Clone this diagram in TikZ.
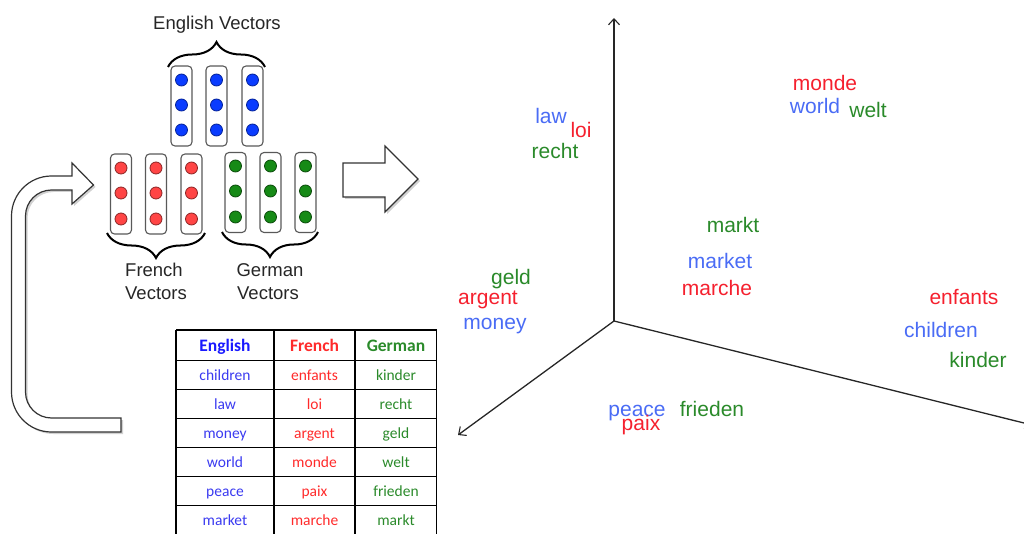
\documentclass[tikz,border=0pt]{standalone}
\usepackage{fontspec}
\setmainfont{Liberation Sans}
\newfontfamily\tablefont{Carlito}
\usetikzlibrary{arrows.meta,decorations.pathreplacing}

\definecolor{dotblue}{HTML}{0A3CFF}
\definecolor{dotred}{HTML}{FF4545}
\definecolor{dotgreen}{HTML}{168A16}
\definecolor{wblue}{HTML}{4A6CF5}
\definecolor{wred}{HTML}{F5202E}
\definecolor{wgreen}{HTML}{2A8A2A}
\definecolor{hblue}{HTML}{1A1AFF}
\definecolor{tblue}{HTML}{3A3AF0}
\definecolor{tred}{HTML}{FF2A2A}
\definecolor{tgreen}{HTML}{2A8A2A}

\begin{document}
\begin{tikzpicture}[x=1pt,y=-1pt,
  vbox/.style={draw=black!65,line width=1.1pt,fill=white,rounded corners=4pt,
    minimum width=21pt,minimum height=80pt,inner sep=0pt},
  vdot/.style={circle,minimum size=12pt,inner sep=0pt,line width=0.8pt},
  bdot/.style={vdot,fill=dotblue,draw=dotblue!60!black},
  rdot/.style={vdot,fill=dotred,draw=dotred!55!black},
  gdot/.style={vdot,fill=dotgreen,draw=dotgreen!55!black},
  bracepath/.style={decorate,decoration={brace,amplitude=25pt},line width=2pt},
  label/.style={font=\fontsize{18.5}{20}\selectfont,anchor=base,text=black!85},
  word/.style={font=\fontsize{21}{24}\selectfont,anchor=base,inner sep=0pt},
  blockarrow/.style={draw=black!80,line width=1.2pt,fill=white,line join=miter},
  arrowshadow/.style={fill=black!30,draw=none,opacity=0.6},
  axis/.style={line width=1.3pt,black!85,-{Straight Barb[length=6pt,width=11pt,line width=1.1pt]}},
  cell/.style={font=\tablefont\fontsize{15.5}{18}\selectfont,anchor=base,inner sep=0pt},
  head/.style={font=\tablefont\bfseries\fontsize{17.5}{20}\selectfont,anchor=base,inner sep=0pt},
  gridline/.style={line width=1.4pt,black}]

\useasboundingbox (0,0) rectangle (1024,534);
\clip (0,0) rectangle (1024,534);

% ---------- vector columns ----------
\foreach \i/\x in {1/181.5,2/216.5,3/252.5}{
  \node[vbox] (eb\i) at (\x,106) {};
  \node[bdot] (eb\i a) at (\x,80) {};
  \node[bdot] (eb\i b) at (\x,105) {};
  \node[bdot] (eb\i c) at (\x,130) {};
}
\foreach \i/\x in {1/121,2/156,3/191.5}{
  \node[vbox] (fb\i) at (\x,194) {};
  \node[rdot] (fb\i a) at (\x,168) {};
  \node[rdot] (fb\i b) at (\x,193) {};
  \node[rdot] (fb\i c) at (\x,219) {};
}
\foreach \i/\x in {1/235.5,2/270.5,3/305.5}{
  \node[vbox] (gb\i) at (\x,192.5) {};
  \node[gdot] (gb\i a) at (\x,166) {};
  \node[gdot] (gb\i b) at (\x,191) {};
  \node[gdot] (gb\i c) at (\x,217) {};
}

% ---------- braces and captions ----------
\coordinate (ebl) at (168,67);
\coordinate (ebr) at (265,67);
\coordinate (fbl) at (107,233);
\coordinate (fbr) at (205,233);
\coordinate (gbl) at (222,232);
\coordinate (gbr) at (318,232);
\draw[bracepath] (ebl) -- (ebr);
\draw[bracepath] (fbr) -- (fbl);
\draw[bracepath] (gbr) -- (gbl);

\node[label] (enlab) at (217,29.5) {English Vectors};
\node[label] (frlab1) at (154,276.5) {French};
\node[label] (frlab2) at (156,299.5) {Vectors};
\node[label] (delab1) at (270,276.5) {German};
\node[label] (delab2) at (268,299.5) {Vectors};

% ---------- block arrow to the right ----------
\def\rightarrowpath{(343,163) -- (385,163) -- (385,146) -- (418,179)
  -- (385,212) -- (385,197) -- (343,197) -- cycle}
\fill[arrowshadow,shift={(2,2)}] \rightarrowpath;
\draw[blockarrow] \rightarrowpath;

% ---------- U-turn arrow on the left ----------
\def\uturnpath{(121,432) -- (51.5,432)
  arc[start angle=90,end angle=180,radius=40] -- (11.5,216)
  arc[start angle=180,end angle=270,radius=40] -- (72,176) -- (72,163)
  -- (93.5,185) -- (72,204) -- (72,190) -- (51.5,190)
  arc[start angle=270,end angle=180,radius=26] -- (25.5,392)
  arc[start angle=180,end angle=90,radius=26] -- (121,418) -- cycle}
\fill[arrowshadow,shift={(2,2)}] \uturnpath;
\draw[blockarrow] \uturnpath;

% ---------- word table ----------
\draw[gridline] (176,330) -- (436.5,330);
\foreach \y in {360.5,389.5,418.5,447.5,476.7,505.7,534.7}
  \draw[gridline] (176,\y) -- (436.5,\y);
\foreach \x in {176,274,355,436.5}
  \draw[gridline] (\x,330) -- (\x,540);

\node[head,text=hblue] (thE) at (225,351) {English};
\node[head,text=tred] (thF) at (314.5,351) {French};
\node[head,text=tgreen] (thG) at (396,351) {German};
\foreach \n/\e/\f/\g/\y in {1/children/enfants/kinder/380,
                             2/law/loi/recht/409,
                             3/money/argent/geld/438,
                             4/world/monde/welt/467,
                             5/peace/paix/frieden/496,
                             6/market/marche/markt/525}{
  \node[cell,text=tblue] (te\n) at (225,\y) {\e};
  \node[cell,text=tred] (tf\n) at (314.5,\y) {\f};
  \node[cell,text=tgreen] (tg\n) at (396,\y) {\g};
}

% ---------- 3-D embedding space ----------
\coordinate (O) at (614,321);
\coordinate (zup) at (614,18);
\coordinate (xleft) at (458,435);
\coordinate (yright) at (1032,425);
\draw[axis] (O) -- (zup);
\draw[axis] (O) -- (xleft);
\draw[axis] (O) -- (yright);

\node[word,text=wblue] (law) at (551,124) {law};
\node[word,text=wred] (loi) at (581,138) {loi};
\node[word,text=wgreen] (recht) at (555,159) {recht};

\node[word,text=wred] (monde) at (825,91) {monde};
\node[word,text=wblue] (world) at (815,114) {world};
\node[word,text=wgreen] (welt) at (868,118) {welt};

\node[word,text=wgreen] (markt) at (733,233) {markt};
\node[word,text=wblue] (market) at (720,269) {market};
\node[word,text=wred] (marche) at (717,295) {marche};

\node[word,text=wgreen] (geld) at (511,284) {geld};
\node[word,text=wred] (argent) at (488,305) {argent};
\node[word,text=wblue] (money) at (495,329) {money};

\node[word,text=wred] (enfants) at (964,305) {enfants};
\node[word,text=wblue] (children) at (941,337) {children};
\node[word,text=wgreen] (kinder) at (978,367) {kinder};

\node[word,text=wblue] (peace) at (637,416) {peace};
\node[word,text=wred] (paix) at (641,430) {paix};
\node[word,text=wgreen] (frieden) at (712,416) {frieden};
\end{tikzpicture}
\end{document}
